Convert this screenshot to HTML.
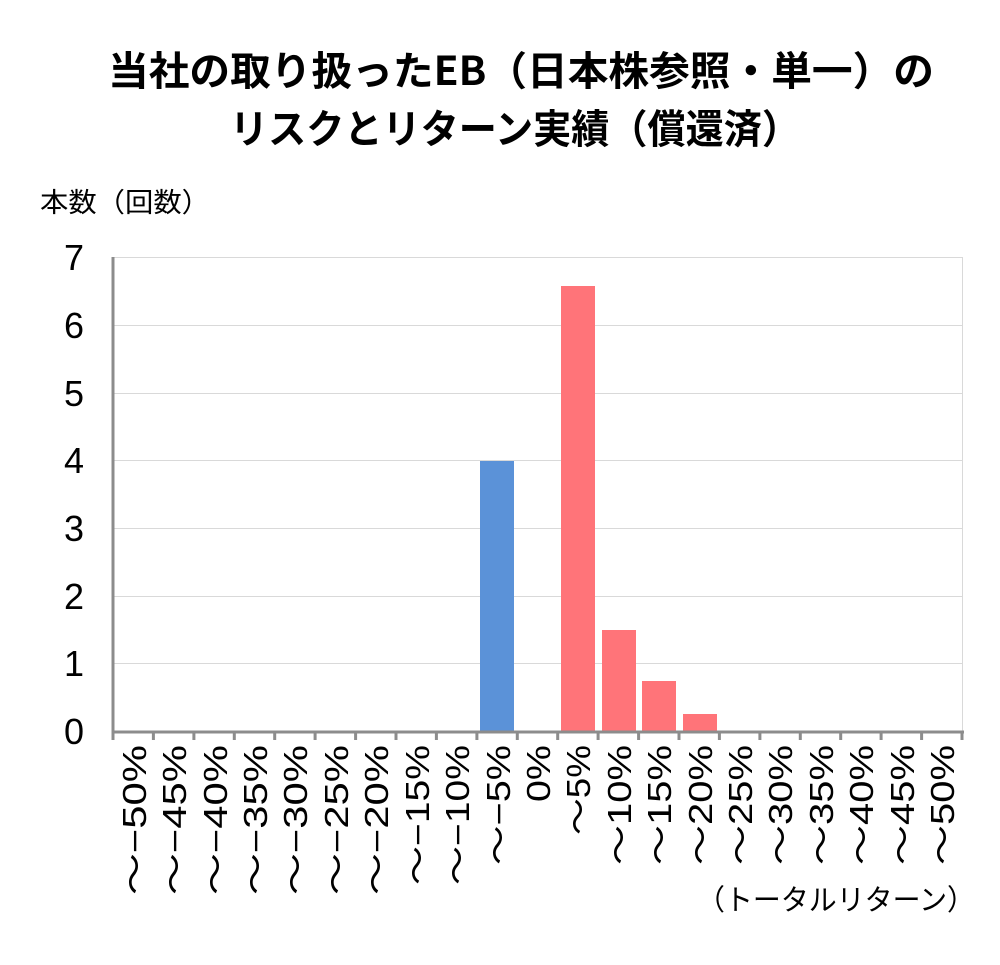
<!DOCTYPE html>
<html><head><meta charset="utf-8"><style>body{margin:0;background:#fff}svg{display:block}</style></head>
<body>
<svg width="1000" height="965" xmlns="http://www.w3.org/2000/svg" font-family="'Liberation Sans','Noto Sans CJK JP',sans-serif">
<rect width="1000" height="965" fill="#fff"/>
<g font-family="'Noto Sans CJK JP',sans-serif" font-weight="bold">
<text x="521" y="85" font-size="40" text-anchor="middle" textLength="826" lengthAdjust="spacingAndGlyphs">当社の取り扱ったEB（日本株参照・単一）の</text>
<text x="515" y="143" font-size="40" text-anchor="middle" textLength="570" lengthAdjust="spacingAndGlyphs">リスクとリターン実績（償還済）</text>
</g>
<text x="40" y="212" font-size="27" font-family="'Noto Sans CJK JP',sans-serif" textLength="170" lengthAdjust="spacingAndGlyphs">本数（回数）</text>
<g stroke="#d9d9d9" stroke-width="1">
<line x1="113" x2="962" y1="257.5" y2="257.5"/><line x1="113" x2="962" y1="325.5" y2="325.5"/>
<line x1="113" x2="962" y1="393.5" y2="393.5"/><line x1="113" x2="962" y1="460.5" y2="460.5"/>
<line x1="113" x2="962" y1="528.5" y2="528.5"/><line x1="113" x2="962" y1="596.5" y2="596.5"/>
<line x1="113" x2="962" y1="663.5" y2="663.5"/><line x1="962.5" x2="962.5" y1="257" y2="731"/>
</g>
<g font-size="36" text-anchor="end" fill="#000">
<text x="84" y="744">0</text><text x="84" y="676">1</text><text x="84" y="609">2</text><text x="84" y="541">3</text>
<text x="84" y="473">4</text><text x="84" y="406">5</text><text x="84" y="338">6</text><text x="84" y="270">7</text>
</g>
<rect x="480" y="461" width="34" height="270" fill="#5b92d8"/>
<rect x="561" y="286" width="34" height="445" fill="#ff7479"/>
<rect x="602" y="630" width="34" height="101" fill="#ff7479"/>
<rect x="642" y="681" width="34" height="50" fill="#ff7479"/>
<rect x="683" y="714" width="34" height="17" fill="#ff7479"/>
<g stroke="#8c8c8c" stroke-width="3" fill="none">
<line x1="113" x2="113" y1="257" y2="733"/>
<line x1="112" x2="964" y1="732" y2="732"/>
<path d="M113 732v8M153.4 732v8M193.9 732v8M234.3 732v8M274.7 732v8M315.1 732v8M355.6 732v8M396 732v8M436.4 732v8M476.9 732v8M517.3 732v8M557.7 732v8M598.1 732v8M638.6 732v8M679 732v8M719.4 732v8M759.9 732v8M800.3 732v8M840.7 732v8M881.1 732v8M921.6 732v8M962 732v8"/>
</g>
<g font-size="33" text-anchor="end" fill="#000">
<text transform="translate(146,745) rotate(-90)" textLength="150" lengthAdjust="spacingAndGlyphs">～−50%</text>
<text transform="translate(186,745) rotate(-90)" textLength="150" lengthAdjust="spacingAndGlyphs">～−45%</text>
<text transform="translate(227,745) rotate(-90)" textLength="150" lengthAdjust="spacingAndGlyphs">～−40%</text>
<text transform="translate(267,745) rotate(-90)" textLength="150" lengthAdjust="spacingAndGlyphs">～−35%</text>
<text transform="translate(307,745) rotate(-90)" textLength="150" lengthAdjust="spacingAndGlyphs">～−30%</text>
<text transform="translate(348,745) rotate(-90)" textLength="150" lengthAdjust="spacingAndGlyphs">～−25%</text>
<text transform="translate(388,745) rotate(-90)" textLength="150" lengthAdjust="spacingAndGlyphs">～−20%</text>
<text transform="translate(429,745) rotate(-90)" textLength="140" lengthAdjust="spacingAndGlyphs">～−15%</text>
<text transform="translate(469,745) rotate(-90)" textLength="140" lengthAdjust="spacingAndGlyphs">～−10%</text>
<text transform="translate(510,745) rotate(-90)" textLength="120" lengthAdjust="spacingAndGlyphs">～−5%</text>
<text transform="translate(550,745) rotate(-90)" textLength="57" lengthAdjust="spacingAndGlyphs">0%</text>
<text transform="translate(590,745) rotate(-90)" textLength="90" lengthAdjust="spacingAndGlyphs">～5%</text>
<text transform="translate(631,745) rotate(-90)" textLength="120" lengthAdjust="spacingAndGlyphs">～10%</text>
<text transform="translate(671,745) rotate(-90)" textLength="120" lengthAdjust="spacingAndGlyphs">～15%</text>
<text transform="translate(712,745) rotate(-90)" textLength="120" lengthAdjust="spacingAndGlyphs">～20%</text>
<text transform="translate(752,745) rotate(-90)" textLength="120" lengthAdjust="spacingAndGlyphs">～25%</text>
<text transform="translate(792,745) rotate(-90)" textLength="120" lengthAdjust="spacingAndGlyphs">～30%</text>
<text transform="translate(833,745) rotate(-90)" textLength="120" lengthAdjust="spacingAndGlyphs">～35%</text>
<text transform="translate(873,745) rotate(-90)" textLength="120" lengthAdjust="spacingAndGlyphs">～40%</text>
<text transform="translate(914,745) rotate(-90)" textLength="120" lengthAdjust="spacingAndGlyphs">～45%</text>
<text transform="translate(954,745) rotate(-90)" textLength="120" lengthAdjust="spacingAndGlyphs">～50%</text>
</g>
<text x="975" y="910" font-size="29" text-anchor="end" font-family="'Noto Sans CJK JP',sans-serif" textLength="278" lengthAdjust="spacingAndGlyphs">（トータルリターン）</text>
</svg>
</body></html>
